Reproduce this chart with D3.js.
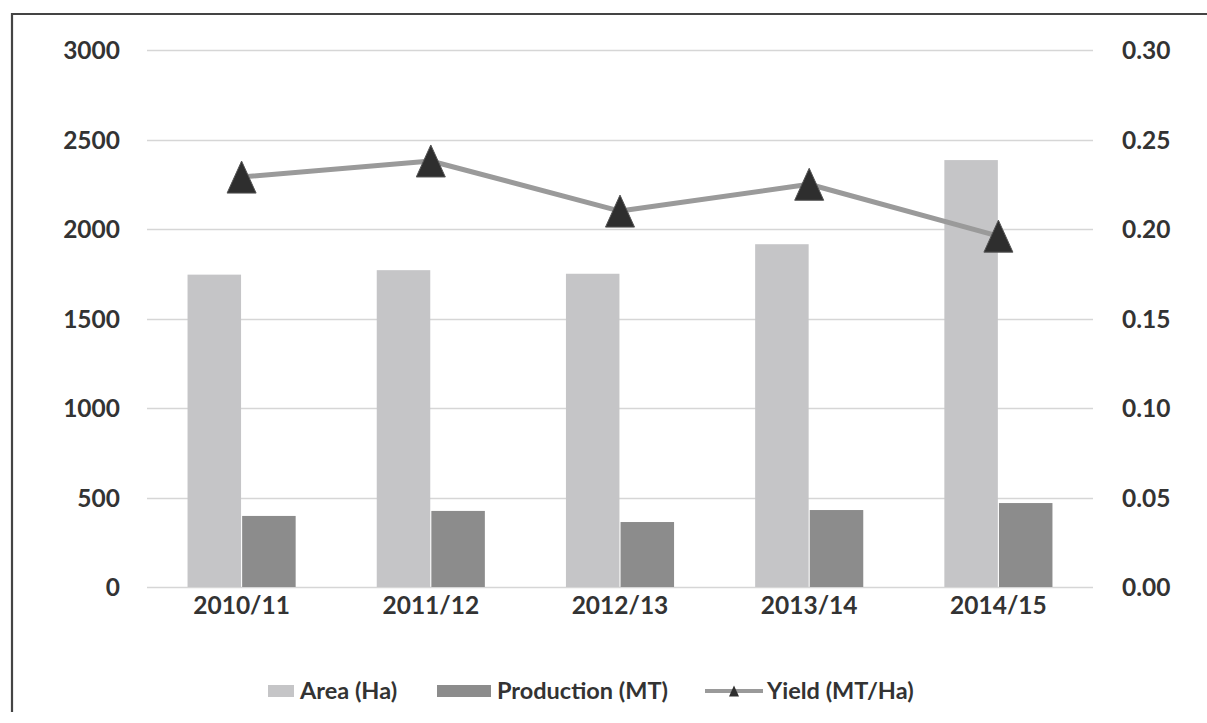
<!DOCTYPE html>
<html>
<head>
<meta charset="utf-8">
<script src="https://cdn.jsdelivr.net/npm/d3@7"></script>
<style>
  html, body { margin: 0; padding: 0; background: #fff; }
  svg { display: block; }
  text { font-family: Lato, "Open Sans", sans-serif; font-weight: 700; fill: #333; }
</style>
</head>
<body>
<svg id="chart" width="1207" height="723"></svg>
<script>
// Seasons on the x axis
const seasons = ["2010/11", "2011/12", "2012/13", "2013/14", "2014/15"];
// Area harvested (Ha) and production (MT), left axis
const areaHa = [1745, 1770, 1750, 1915, 2385];
const productionMT = [397, 425, 363, 430, 469];
// Yield (MT/Ha), right axis
const yieldMTHa = [0.229, 0.238, 0.210, 0.225, 0.196];
// Axis ticks
const leftTicks = [0, 500, 1000, 1500, 2000, 2500, 3000];
const rightTicks = [0, 0.05, 0.10, 0.15, 0.20, 0.25, 0.30];

const svg = d3.select("#chart");
const plot = { left: 147, right: 1093, top: 50, bottom: 587 };
const fontSize = 24.5;

// Outer frame (top and left edges visible)
svg.append("path")
  .attr("d", "M12,712 L12,14 L1207,14")
  .attr("fill", "none")
  .attr("stroke", "#444")
  .attr("stroke-width", 2.2);

const x0 = d3.scaleBand().domain(seasons).range([plot.left, plot.right]).padding(0);
const groupW = x0.bandwidth() / 1.75;
const x1 = d3.scaleBand().domain(["area", "prod"]).range([0, groupW]).paddingInner(0.02);
const yL = d3.scaleLinear().domain([0, 3000]).range([plot.bottom, plot.top]);
const yR = d3.scaleLinear().domain([0, 0.30]).range([plot.bottom, plot.top]);

// Gridlines
svg.append("g")
  .selectAll("line")
  .data(leftTicks)
  .join("line")
  .attr("x1", plot.left).attr("x2", plot.right)
  .attr("y1", d => Math.round(yL(d)) + 0.5).attr("y2", d => Math.round(yL(d)) + 0.5)
  .attr("stroke", "#d6d6d6").attr("stroke-width", 1.5);

function styleTicks(g) {
  g.select(".domain").remove();
  g.selectAll("text").attr("font-size", fontSize)
    .style("font-family", "Lato, 'Open Sans', sans-serif").style("font-weight", 700).attr("fill", "#333");
}

// Left axis
svg.append("g")
  .attr("transform", `translate(${plot.left - 27},0)`)
  .call(d3.axisLeft(yL).tickValues(leftTicks).tickSize(0).tickPadding(0).tickFormat(d3.format("d")))
  .call(styleTicks)
  .selectAll("text").attr("dy", "0.35em");

// Right axis
svg.append("g")
  .attr("transform", `translate(${plot.right + 29},0)`)
  .call(d3.axisRight(yR).tickValues(rightTicks).tickSize(0).tickPadding(0).tickFormat(d3.format(".2f")))
  .call(styleTicks)
  .selectAll("text").attr("dy", "0.35em");

// Bottom axis labels
svg.append("g")
  .attr("transform", `translate(0,${plot.bottom})`)
  .call(d3.axisBottom(x0).tickSize(0).tickPadding(0))
  .call(styleTicks)
  .selectAll("text").attr("y", 18).attr("dy", "0.35em");

// Bars
const colors = { area: "#c5c5c7", prod: "#8c8c8c" };
const groups = svg.append("g")
  .selectAll("g")
  .data(seasons.map((s, i) => ({ s, area: areaHa[i], prod: productionMT[i] })))
  .join("g")
  .attr("transform", d => `translate(${x0(d.s) + (x0.bandwidth() - groupW) / 2},0)`);

groups.selectAll("rect")
  .data(d => ["area", "prod"].map(k => ({ k, v: d[k] })))
  .join("rect")
  .attr("x", d => x1(d.k))
  .attr("width", x1.bandwidth())
  .attr("y", d => yL(d.v))
  .attr("height", d => yL(0) - yL(d.v))
  .attr("fill", d => colors[d.k]);

// Yield line
const pts = seasons.map((s, i) => [x0(s) + x0.bandwidth() / 2, yR(yieldMTHa[i])]);
svg.append("path")
  .attr("d", d3.line()(pts))
  .attr("fill", "none")
  .attr("stroke", "#9a9a9a")
  .attr("stroke-width", 5)
  .attr("stroke-linejoin", "round");

// Triangle markers (slightly taller than wide)
const triPath = (w, h) => `M0,${-h / 2}L${w / 2},${h / 2}L${-w / 2},${h / 2}Z`;
svg.append("g")
  .selectAll("path")
  .data(pts)
  .join("path")
  .attr("transform", d => `translate(${d[0]},${d[1]})`)
  .attr("d", triPath(29, 32))
  .attr("fill", "#2e2e2e")
  .attr("stroke", "#555")
  .attr("stroke-width", 1);

// Legend
const ly = 691;
const legend = svg.append("g");
legend.append("rect").attr("x", 268).attr("y", ly - 6).attr("width", 26).attr("height", 12).attr("fill", colors.area);
legend.append("text").attr("x", 300).attr("y", ly).attr("dy", "0.35em").attr("font-size", 23.5).text("Area (Ha)");
legend.append("rect").attr("x", 437).attr("y", ly - 6).attr("width", 54).attr("height", 12).attr("fill", colors.prod);
legend.append("text").attr("x", 497).attr("y", ly).attr("dy", "0.35em").attr("font-size", 23.5).text("Production (MT)");
legend.append("line").attr("x1", 705).attr("x2", 763).attr("y1", ly).attr("y2", ly)
  .attr("stroke", "#9a9a9a").attr("stroke-width", 4);
legend.append("path").attr("transform", `translate(734,${ly})`)
  .attr("d", triPath(10, 11)).attr("fill", "#2e2e2e");
legend.append("text").attr("x", 767).attr("y", ly).attr("dy", "0.35em").attr("font-size", 23.5).text("Yield (MT/Ha)");
</script>
</body>
</html>
